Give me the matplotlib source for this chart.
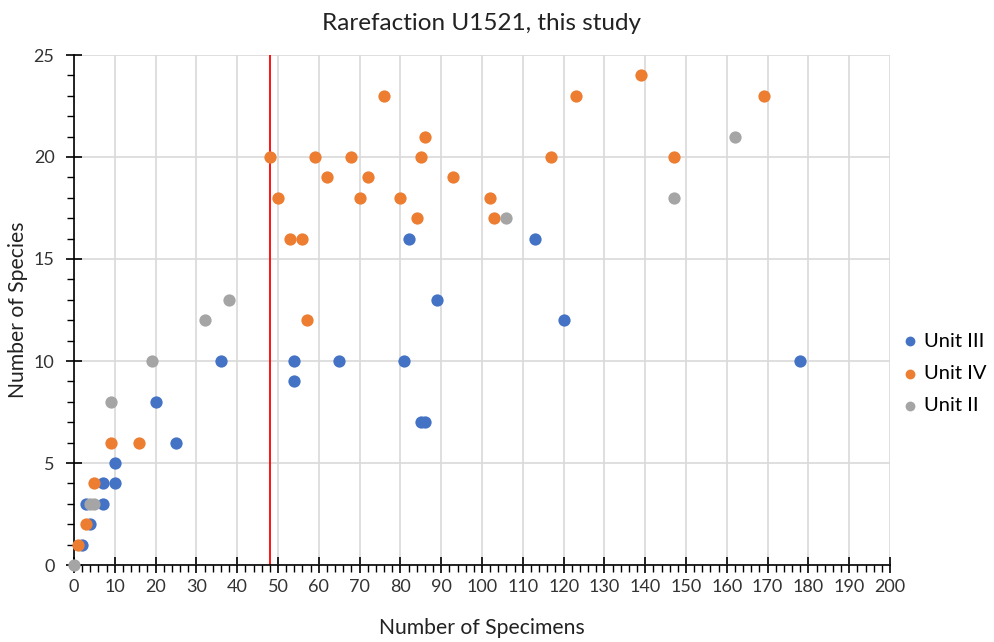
import matplotlib.pyplot as plt
import numpy as np

plt.rcParams['font.family'] = ['Lato', 'DejaVu Sans']

# specimens / species per sample
unit3_x = [2, 3, 4, 7, 7, 10, 10, 20, 25, 36, 54, 54, 65, 81, 82, 85, 86, 89, 113, 120, 178]
unit3_y = [1, 3, 2, 4, 3, 5, 4, 8, 6, 10, 10, 9, 10, 10, 16, 7, 7, 13, 16, 12, 10]

unit4_x = [1, 3, 5, 9, 16, 48, 50, 53, 56, 57, 59, 62, 68, 70, 72, 76, 80, 84, 85, 86,
           93, 102, 103, 117, 123, 139, 147, 169]
unit4_y = [1, 2, 4, 6, 6, 20, 18, 16, 16, 12, 20, 19, 20, 18, 19, 23, 18, 17, 20, 21,
           19, 18, 17, 20, 23, 24, 20, 23]

unit2_x = [0, 4, 5, 9, 19, 32, 38, 106, 147, 162]
unit2_y = [0, 3, 3, 8, 10, 12, 13, 17, 18, 21]

cutoff = 48

fig = plt.figure(figsize=(9.95, 6.42), dpi=100)
ax = fig.add_axes([74 / 995, 77 / 642, 816 / 995, 510 / 642])

ms = 78
ax.scatter(unit3_x, unit3_y, s=ms, color='#4472C4', label='Unit III', zorder=3, clip_on=False, linewidths=0)
ax.scatter(unit4_x, unit4_y, s=ms, color='#ED7D31', label='Unit IV', zorder=3, clip_on=False, linewidths=0)
ax.scatter(unit2_x, unit2_y, s=ms, color='#A5A5A5', label='Unit II', zorder=3, clip_on=False, linewidths=0)

ax.axvline(cutoff, color='#FF0000', linewidth=1.3, zorder=2)

ax.set_xlim(0, 200)
ax.set_ylim(0, 25)
ax.set_xticks(np.arange(0, 201, 10))
ax.set_xticks(np.arange(0, 201, 2), minor=True)
ax.set_yticks(np.arange(0, 26, 5))
ax.set_yticks(np.arange(0, 26, 1), minor=True)

ax.grid(True, which='major', color='#D9D9D9', linewidth=1.2, zorder=0)
ax.set_axisbelow(True)

for s in ['top', 'right']:
    ax.spines[s].set_visible(False)
for s in ['left', 'bottom']:
    ax.spines[s].set_color('black')
    ax.spines[s].set_linewidth(1.2)

ax.tick_params(which='major', direction='inout', length=12, width=1.2, colors='black',
               labelsize=13, labelcolor='#333333')
ax.tick_params(which='minor', direction='out', length=5, width=1.0, colors='black')
ax.tick_params(axis='x', which='major', pad=4)
ax.tick_params(axis='y', which='major', pad=8)

ax.set_title('Rarefaction U1521, this study', fontsize=17.5, color='#222222', pad=18)
ax.set_xlabel('Number of Specimens', fontsize=15.2, color='#222222')
ax.set_ylabel('Number of Species', fontsize=15.2, color='#222222')
ax.xaxis.set_label_coords(0.5, -0.104)
ax.yaxis.set_label_coords(-0.0564, 0.5)

ax.legend(loc='center left', bbox_to_anchor=(1.0, 0.376), frameon=False, fontsize=14.5,
          handletextpad=0.3, labelspacing=0.75, markerscale=0.8, handlelength=0.8,
          borderaxespad=0.6, borderpad=0)

fig.savefig('out.png', dpi=100)
